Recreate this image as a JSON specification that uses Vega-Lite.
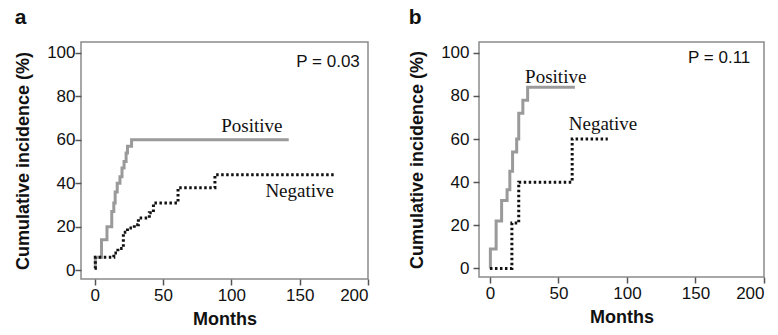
{
  "$schema": "https://vega.github.io/schema/vega-lite/v6.json",
  "padding": {"left": 13, "top": 6, "right": 0, "bottom": 5},
  "background": "white",
  "datasets": {
    "a": [
      {"series": "Positive", "month": 0, "pct": 1},
      {"series": "Positive", "month": 0.5, "pct": 6},
      {"series": "Positive", "month": 5, "pct": 14},
      {"series": "Positive", "month": 9, "pct": 20},
      {"series": "Positive", "month": 12.5, "pct": 27},
      {"series": "Positive", "month": 14, "pct": 31},
      {"series": "Positive", "month": 15, "pct": 36},
      {"series": "Positive", "month": 16.5, "pct": 40},
      {"series": "Positive", "month": 18.5, "pct": 43},
      {"series": "Positive", "month": 20, "pct": 47},
      {"series": "Positive", "month": 21.5, "pct": 50},
      {"series": "Positive", "month": 23, "pct": 54},
      {"series": "Positive", "month": 24, "pct": 57},
      {"series": "Positive", "month": 27, "pct": 60},
      {"series": "Positive", "month": 142, "pct": 60},
      {"series": "Negative", "month": 0, "pct": 1},
      {"series": "Negative", "month": 0.5, "pct": 6},
      {"series": "Negative", "month": 14, "pct": 8},
      {"series": "Negative", "month": 17, "pct": 10},
      {"series": "Negative", "month": 21, "pct": 17.5},
      {"series": "Negative", "month": 24, "pct": 19.5},
      {"series": "Negative", "month": 29, "pct": 21},
      {"series": "Negative", "month": 32, "pct": 24},
      {"series": "Negative", "month": 40, "pct": 26.5},
      {"series": "Negative", "month": 43, "pct": 31},
      {"series": "Negative", "month": 61, "pct": 38},
      {"series": "Negative", "month": 88, "pct": 44},
      {"series": "Negative", "month": 176, "pct": 44}
    ],
    "b": [
      {"series": "Positive", "month": 0, "pct": 0},
      {"series": "Positive", "month": 0.3, "pct": 9},
      {"series": "Positive", "month": 4.5, "pct": 22},
      {"series": "Positive", "month": 8.5, "pct": 31.5},
      {"series": "Positive", "month": 12.5, "pct": 36.5},
      {"series": "Positive", "month": 14.5, "pct": 45},
      {"series": "Positive", "month": 16.5, "pct": 54},
      {"series": "Positive", "month": 19.5, "pct": 60},
      {"series": "Positive", "month": 21, "pct": 72},
      {"series": "Positive", "month": 24, "pct": 78},
      {"series": "Positive", "month": 27.5, "pct": 84},
      {"series": "Positive", "month": 62, "pct": 84},
      {"series": "Negative", "month": 0, "pct": 0},
      {"series": "Negative", "month": 16, "pct": 21},
      {"series": "Negative", "month": 21, "pct": 40},
      {"series": "Negative", "month": 60, "pct": 60},
      {"series": "Negative", "month": 86, "pct": 60}
    ],
    "labels_a": [
      {"label": "Positive", "month": 115, "pct": 66.5},
      {"label": "Negative", "month": 150, "pct": 36.5}
    ],
    "labels_b": [
      {"label": "Positive", "month": 48, "pct": 88.8},
      {"label": "Negative", "month": 82.5, "pct": 67}
    ],
    "p_a": [{"label": "P = 0.03", "month": 194, "pct": 96}],
    "p_b": [{"label": "P = 0.11", "month": 190, "pct": 97.5}]
  },
  "config": {
    "font": "Liberation Sans",
    "view": {"stroke": "#8a8a8a", "strokeWidth": 1.5},
    "axis": {
      "grid": false,
      "domain": false,
      "tickColor": "#555",
      "tickSize": 6,
      "tickWidth": 1.5,
      "labelFont": "Liberation Sans",
      "labelFontSize": 17,
      "labelColor": "#111",
      "titleFont": "Liberation Sans",
      "titleFontSize": 18,
      "titleFontWeight": "bold",
      "titleColor": "#111"
    },
    "title": {"font": "Liberation Sans", "fontSize": 21, "fontWeight": "bold", "anchor": "start", "frame": "bounds", "color": "#111", "offset": 14},
    "concat": {"spacing": 37}
  },
  "hconcat": [
    {
      "title": "a",
      "width": 287,
      "height": 237,
      "layer": [
        {
          "data": {"name": "a"},
          "transform": [{"filter": "datum.series === 'Positive'"}],
          "mark": {"type": "line", "interpolate": "step-after", "color": "#9a9a9a", "strokeWidth": 3},
          "encoding": {
            "x": {"field": "month", "type": "quantitative", "scale": {"domain": [-10, 200], "nice": false}, "axis": {"values": [0, 50, 100, 150, 200], "title": "Months", "labelPadding": 2, "titlePadding": 7}},
            "y": {"field": "pct", "type": "quantitative", "scale": {"domain": [-4, 105], "nice": false}, "axis": {"values": [0, 20, 40, 60, 80, 100], "title": "Cumulative incidence (%)", "labelPadding": 0, "titlePadding": 14}}
          }
        },
        {
          "data": {"name": "a"},
          "transform": [{"filter": "datum.series === 'Negative'"}],
          "mark": {"type": "line", "interpolate": "step-after", "color": "#111", "strokeWidth": 3, "strokeDash": [2.5, 2.5]},
          "encoding": {
            "x": {"field": "month", "type": "quantitative"},
            "y": {"field": "pct", "type": "quantitative"}
          }
        },
        {
          "data": {"name": "labels_a"},
          "mark": {"type": "text", "font": "Liberation Serif", "fontSize": 19, "color": "#111", "align": "center", "baseline": "middle"},
          "encoding": {
            "x": {"field": "month", "type": "quantitative"},
            "y": {"field": "pct", "type": "quantitative"},
            "text": {"field": "label"}
          }
        },
        {
          "data": {"name": "p_a"},
          "mark": {"type": "text", "fontSize": 17, "color": "#111", "align": "right", "baseline": "middle"},
          "encoding": {
            "x": {"field": "month", "type": "quantitative"},
            "y": {"field": "pct", "type": "quantitative"},
            "text": {"field": "label"}
          }
        }
      ]
    },
    {
      "title": "b",
      "width": 285,
      "height": 235,
      "layer": [
        {
          "data": {"name": "b"},
          "transform": [{"filter": "datum.series === 'Positive'"}],
          "mark": {"type": "line", "interpolate": "step-after", "color": "#9a9a9a", "strokeWidth": 3},
          "encoding": {
            "x": {"field": "month", "type": "quantitative", "scale": {"domain": [-8, 200], "nice": false}, "axis": {"values": [0, 50, 100, 150, 200], "title": "Months", "labelPadding": 2, "titlePadding": 7}},
            "y": {"field": "pct", "type": "quantitative", "scale": {"domain": [-4, 105], "nice": false}, "axis": {"values": [0, 20, 40, 60, 80, 100], "title": "Cumulative incidence (%)", "labelPadding": 4, "titlePadding": 14}}
          }
        },
        {
          "data": {"name": "b"},
          "transform": [{"filter": "datum.series === 'Negative'"}],
          "mark": {"type": "line", "interpolate": "step-after", "color": "#111", "strokeWidth": 3, "strokeDash": [2.5, 2.5]},
          "encoding": {
            "x": {"field": "month", "type": "quantitative"},
            "y": {"field": "pct", "type": "quantitative"}
          }
        },
        {
          "data": {"name": "labels_b"},
          "mark": {"type": "text", "font": "Liberation Serif", "fontSize": 19, "color": "#111", "align": "center", "baseline": "middle"},
          "encoding": {
            "x": {"field": "month", "type": "quantitative"},
            "y": {"field": "pct", "type": "quantitative"},
            "text": {"field": "label"}
          }
        },
        {
          "data": {"name": "p_b"},
          "mark": {"type": "text", "fontSize": 17, "color": "#111", "align": "right", "baseline": "middle"},
          "encoding": {
            "x": {"field": "month", "type": "quantitative"},
            "y": {"field": "pct", "type": "quantitative"},
            "text": {"field": "label"}
          }
        }
      ]
    }
  ]
}
